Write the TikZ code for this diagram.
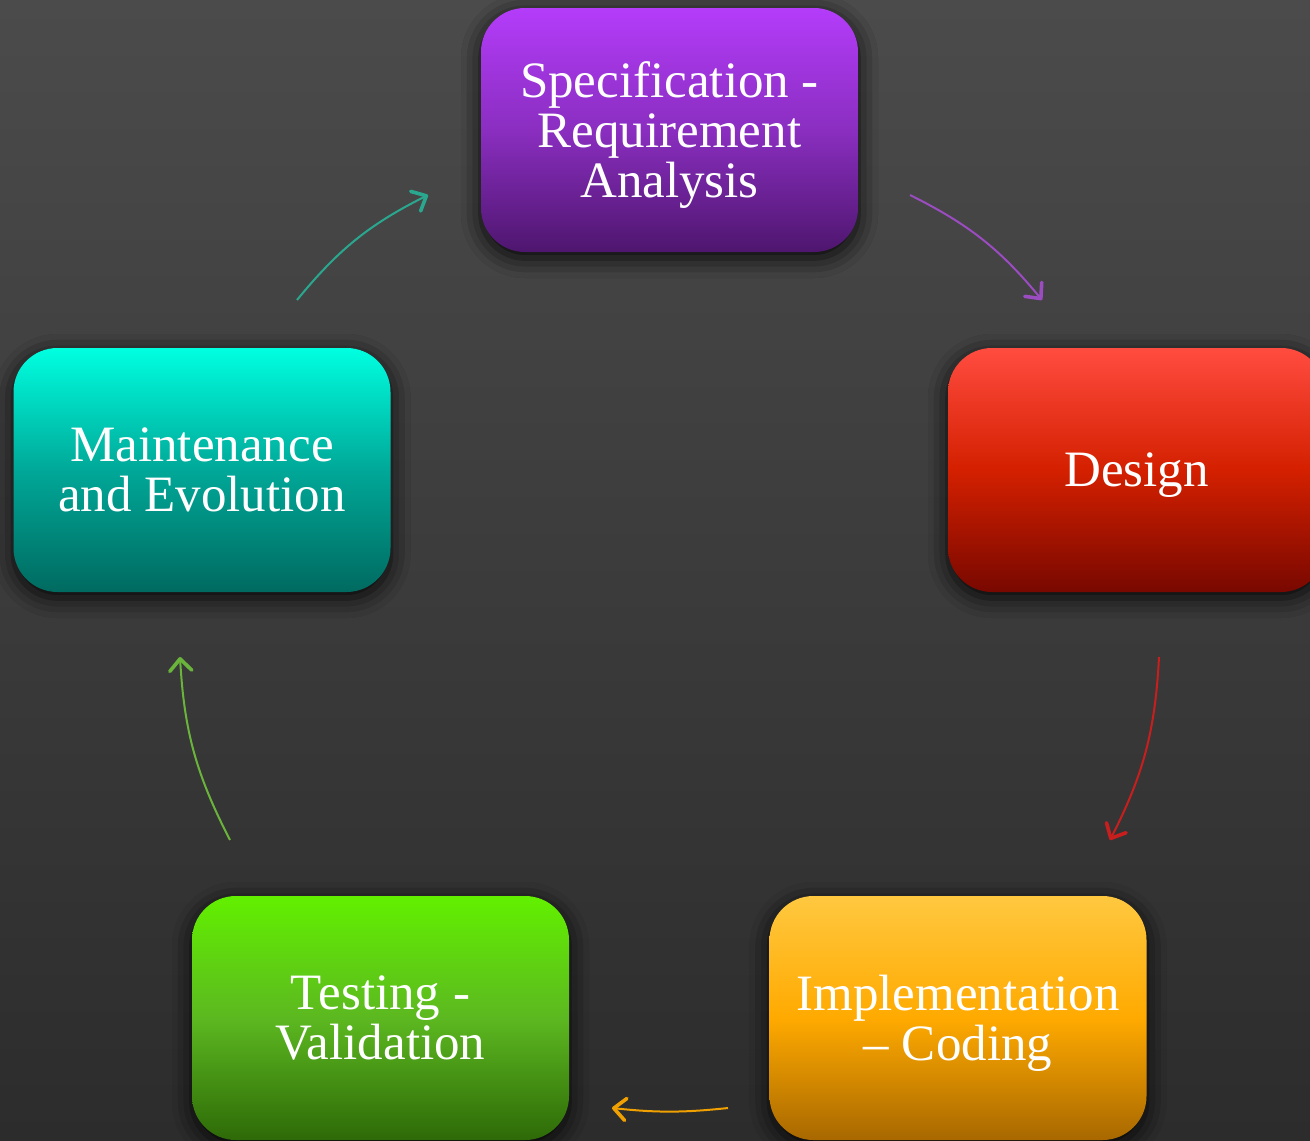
\documentclass[tikz,border=0pt]{standalone}
\usepackage{fontspec}
\setmainfont{Liberation Serif}
\usepackage{tikz}
\usetikzlibrary{arrows.meta,shadows.blur}

\definecolor{bgtop}{HTML}{4B4B4B}
\definecolor{bgbot}{HTML}{2C2C2C}
\definecolor{purtop}{HTML}{B43CFA}
\definecolor{purmid}{HTML}{8A2EC0}
\definecolor{purbot}{HTML}{4E166E}
\definecolor{redtop}{HTML}{FF4C40}
\definecolor{redmid}{HTML}{D42000}
\definecolor{redbot}{HTML}{780800}
\definecolor{oratop}{HTML}{FFC840}
\definecolor{oramid}{HTML}{FFAA00}
\definecolor{orabot}{HTML}{A86800}
\definecolor{gretop}{HTML}{62F000}
\definecolor{gremid}{HTML}{5CB820}
\definecolor{grebot}{HTML}{2E6A08}
\definecolor{teatop}{HTML}{00FFE0}
\definecolor{teamid}{HTML}{00A898}
\definecolor{teabot}{HTML}{006A60}

\begin{document}
\begin{tikzpicture}[x=0.5pt,y=-0.5pt,>={Straight Barb[length=6pt,width=11pt,line width=1.8pt,round]},
	phase/.style={rounded corners=22pt,minimum width=188.5pt,minimum height=122pt,text=white,align=center,
		font=\fontsize{25.5}{25}\selectfont,text depth=0pt,
		blur shadow={shadow xshift=0pt,shadow yshift=-3pt,shadow blur radius=10pt,shadow opacity=90}},
	flow/.style={->,line width=1pt}]
	\useasboundingbox (0,0) rectangle (1310,1140);
	\clip (0,0) rectangle (1310,1140);
	\shade [top color=bgtop,bottom color=bgbot] (0,0) rectangle (1310,1140);

	\draw
		(669.5,130)  node(spec)  [phase,top color=purtop,bottom color=purbot,middle color=purmid] {Specification -\\Requirement\\Analysis}
		(1136.5,470) node(des)   [phase,top color=redtop,bottom color=redbot,middle color=redmid] {Design}
		(958,1018)   node(impl)  [phase,top color=oratop,bottom color=orabot,middle color=oramid] {Implementation\\– Coding}
		(380.5,1018) node(test)  [phase,top color=gretop,bottom color=grebot,middle color=gremid] {Testing -\\Validation}
		(202,470)    node(maint) [phase,top color=teatop,bottom color=teabot,middle color=teamid] {Maintenance\\and Evolution};

	\coordinate (ms1) at (297,300);   \coordinate (ms2) at (428,195);
	\coordinate (sd1) at (910,195);   \coordinate (sd2) at (1042,300);
	\coordinate (di1) at (1159,657);  \coordinate (di2) at (1110,840);
	\coordinate (it1) at (728,1108);  \coordinate (it2) at (612,1108);
	\coordinate (tm1) at (230,840);   \coordinate (tm2) at (180,657);

	\draw [flow,color={rgb,255:red,42;green,168;blue,143}] (ms1) to[bend left=12] (ms2);
	\draw [flow,color={rgb,255:red,154;green,76;blue,192}] (sd1) to[bend left=12] (sd2);
	\draw [flow,color={rgb,255:red,200;green,30;blue,30}] (di1) to[bend left=12] (di2);
	\draw [flow,color={rgb,255:red,240;green,160;blue,0}] (it1) to[bend left=6] (it2);
	\draw [flow,color={rgb,255:red,106;green,180;blue,60}] (tm1) to[bend left=12] (tm2);
\end{tikzpicture}
\end{document}
